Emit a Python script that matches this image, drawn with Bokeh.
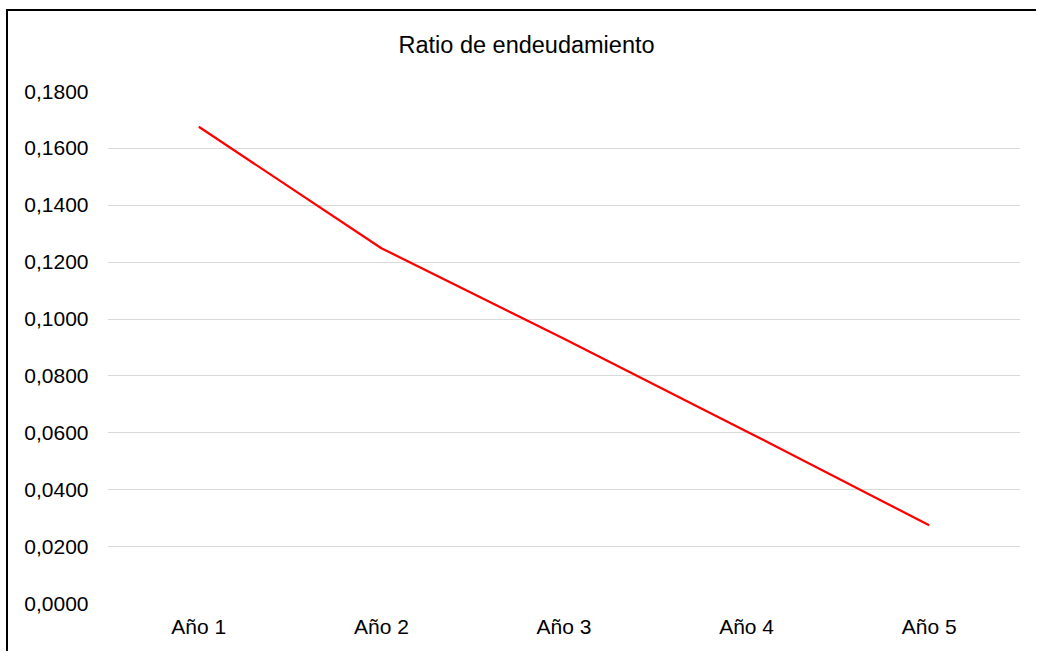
from bokeh.plotting import figure
from bokeh.models import FactorRange, Range1d, FixedTicker, CustomJSTickFormatter, Title
from bokeh.embed import file_html
from bokeh.resources import INLINE

title_text = "Ratio de endeudamiento"
categories = ["Año 1", "Año 2", "Año 3", "Año 4", "Año 5"]
ratio = [0.1676, 0.1249, 0.0931, 0.0605, 0.0275]
y_ticks = [0.0, 0.02, 0.04, 0.06, 0.08, 0.10, 0.12, 0.14, 0.16, 0.18]

FONT = "Liberation Sans"
W, H = 1030, 642
p = figure(width=W, height=H, output_backend="svg", toolbar_location=None,
           x_range=FactorRange(factors=categories), y_range=Range1d(0, 0.18),
           min_border_left=99, min_border_right=18, min_border_top=80, min_border_bottom=50,
           styles={"border-left": "2px solid black", "border-top": "2px solid black",
                   "border-right": "none", "border-bottom": "none",
                   "margin-left": "6px", "margin-top": "9px"})
p.outline_line_color = None
p.background_fill_color = "white"
p.border_fill_color = "white"

# invisible spacer between the title and the plot frame (pushes the title up)
p.add_layout(Title(text=" ", text_font_size="1px", standoff=26), "above")

p.title.text = title_text
p.title.align = "left"
p.title.offset = 291
p.title.standoff = 10
p.title.text_font = FONT
p.title.text_font_size = "23.5px"
p.title.text_font_style = "normal"
p.title.text_color = "#000000"

p.line(x=categories, y=ratio, line_color="#ff0000", line_width=2.25)

p.yaxis.ticker = FixedTicker(ticks=y_ticks)
p.yaxis.formatter = CustomJSTickFormatter(code="return tick.toFixed(4).replace('.', ',');")
for ax in (p.xaxis[0], p.yaxis[0]):
    ax.axis_line_color = None
    ax.major_tick_line_color = None
    ax.minor_tick_line_color = None
    ax.major_tick_out = 0
    ax.major_tick_in = 0
    ax.major_label_text_font = FONT
    ax.major_label_text_font_size = "21px"
    ax.major_label_text_color = "#000000"
p.yaxis.major_label_standoff = 19
p.xaxis.major_label_standoff = 11

p.xgrid.grid_line_color = None
p.ygrid.grid_line_color = "#d9d9d9"
p.ygrid.grid_line_width = 1.2

open("out.html", "w").write(file_html(p, INLINE))
